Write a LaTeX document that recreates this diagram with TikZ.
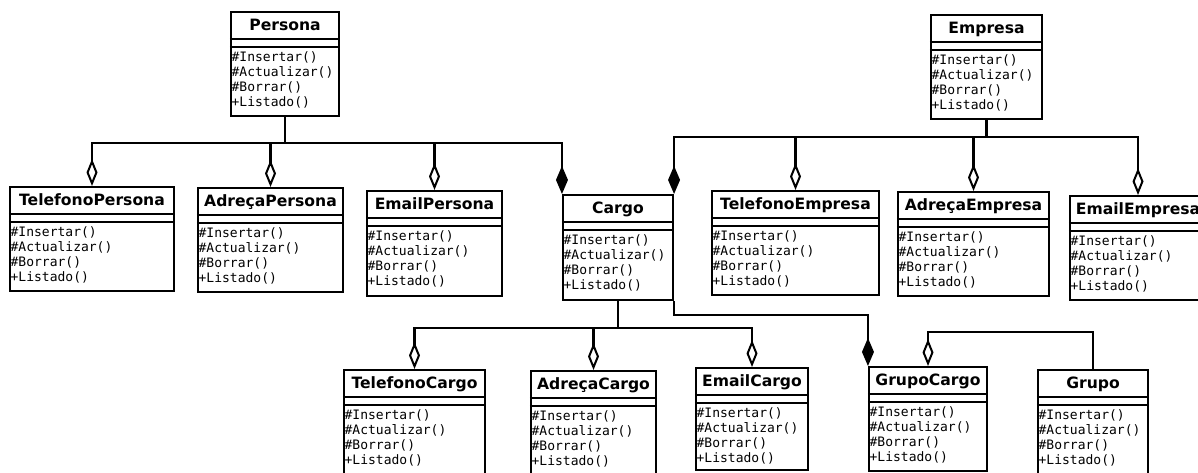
\documentclass[tikz,border=0pt]{standalone}
\usepackage{fontspec}
\usetikzlibrary{arrows.meta,fit}
\newfontfamily\titlefont{DejaVu Sans}
\newfontfamily\methfont{DejaVu Sans Mono}
\tikzset{
  clsbox/.style={draw, line width=2.1pt, inner sep=0pt, fill=white},
  sepline/.style={line width=2.1pt},
  clstitle/.style={font=\titlefont\bfseries\fontsize{15.6}{18}\selectfont, inner sep=0pt, anchor=base},
  clsmeth/.style={font=\methfont\fontsize{13}{15}\selectfont, inner sep=0pt, anchor=base west},
  conn/.style={line width=2.1pt},
  agg/.style={conn, -{Diamond[open, length=27pt, width=11pt, line width=2pt]}},
  comp/.style={conn, -{Diamond[length=28pt, width=12pt]}}
}
\newcommand{\umlcls}[6]{%
  \node[clsbox, fit={(#2,#3) (#4,#5)}] (#1) {};
  \draw[sepline] ([yshift=-28pt]#1.north west) -- ([yshift=-28pt]#1.north east);
  \draw[sepline] ([yshift=-36pt]#1.north west) -- ([yshift=-36pt]#1.north east);
  \node[clstitle] (#1-title) at ([yshift=-20pt]#1.north) {#6};
  \foreach \t [count=\i] in {\#Insertar(),\#Actualizar(),\#Borrar(),+Listado()}
    \node[clsmeth] (#1-m\i) at ([xshift=1.5pt,yshift={-(36pt+15pt*\i)}]#1.north west) {\t};
}
\begin{document}
\begin{tikzpicture}[x=1pt,y=-1pt]
\useasboundingbox (0,0) rectangle (1198,472);
% classes
\umlcls{Persona}{231}{12}{339}{116}{Persona}
\umlcls{Empresa}{931}{15}{1042}{119}{Empresa}
\umlcls{TP}{10}{187}{174}{291}{TelefonoPersona}
\umlcls{AP}{198}{188}{343}{292}{AdreçaPersona}
\umlcls{EP}{367}{191}{502}{296}{EmailPersona}
\umlcls{Cargo}{563}{195}{673}{300}{Cargo}
\umlcls{TE}{712}{191}{879}{295}{TelefonoEmpresa}
\umlcls{AE}{898}{192}{1049}{296}{AdreçaEmpresa}
\umlcls{EE}{1070}{196}{1206}{300}{EmailEmpresa}
\umlcls{TC}{344}{370}{485}{474}{TelefonoCargo}
\umlcls{AC}{531}{371}{656}{475}{AdreçaCargo}
\umlcls{EC}{696}{368}{808}{470}{EmailCargo}
\umlcls{GC}{869}{367}{987}{471}{GrupoCargo}
\umlcls{Grupo}{1038}{370}{1148}{474}{Grupo}
% Persona connectors
\coordinate (pj) at ([yshift=-26pt]Persona.south);
\draw[conn] (Persona.south) -- (pj);
\draw[agg] (pj) -| (TP.north);
\draw[agg] (pj) -| (AP.north);
\draw[agg] (pj) -| (EP.north);
\draw[comp] (pj) -| (Cargo.north west);
% Empresa connectors
\coordinate (ej) at ([yshift=-17pt]Empresa.south);
\draw[conn] (Empresa.south) -- (ej);
\draw[comp] (ej) -| (Cargo.north east);
\draw[agg] (ej) -| (TE.north);
\draw[agg] (ej) -| (AE.north);
\draw[agg] (ej) -| (EE.north);
% Cargo connectors
\coordinate (cj) at ([yshift=-27pt]Cargo.south);
\draw[conn] (Cargo.south) -- (cj);
\draw[agg] (cj) -| (TC.north);
\draw[agg] (cj) -| (AC.north);
\draw[agg] (cj) -| (EC.north);
\draw[comp] (Cargo.south east) -- ++(0,14) -| (GC.north west);
% Grupo connector
\draw[agg] (Grupo.north) -- ++(0,-37) -| (GC.north);
\end{tikzpicture}
\end{document}
